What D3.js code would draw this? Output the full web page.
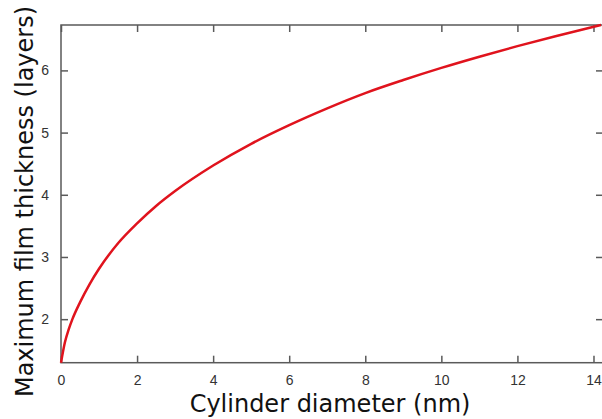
<!DOCTYPE html>
<html>
<head>
<meta charset="utf-8">
<script src="https://cdn.jsdelivr.net/npm/d3@7"></script>
<style>
  body { margin: 0; background: #fff; }
  svg { display: block; font-family: "DejaVu Sans", Verdana, sans-serif; }
</style>
</head>
<body>
<div id="chart"></div>
<script>
// curve: cylinder diameter (nm) -> max film thickness (layers)
var diameter = [0, 0.1, 0.2, 0.3, 0.5, 0.75, 1, 1.5, 2, 2.5, 3, 4, 5, 6, 7, 8, 9, 10, 11, 12, 13, 14.2];
var thickness = [1.3, 1.62, 1.83, 2.0, 2.27, 2.56, 2.81, 3.22, 3.54, 3.82, 4.06, 4.47, 4.82, 5.12, 5.39, 5.635, 5.845, 6.04, 6.22, 6.39, 6.55, 6.73];
var xTicks = [0, 2, 4, 6, 8, 10, 12, 14];
var yTicks = [2, 3, 4, 5, 6];
var xTitle = 'Cylinder diameter (nm)';
var yTitle = 'Maximum film thickness (layers)';

(function() {
  var W = 602, H = 419;
  var plotL = 61, plotR = 603, plotT = 25, plotB = 362.7;
  var axisColor = '#5a5a5a';
  var tickLen = 7;

  var x = d3.scaleLinear().domain([0, 14.25]).range([plotL, plotR]);
  var y = d3.scaleLinear().domain([1.3, 6.73]).range([plotB, plotT]);

  var svg = d3.select('#chart').append('svg')
    .attr('width', W)
    .attr('height', H);

  // frame
  svg.append('rect')
    .attr('x', plotL)
    .attr('y', plotT)
    .attr('width', plotR - plotL)
    .attr('height', plotB - plotT)
    .attr('fill', 'none')
    .attr('stroke', axisColor)
    .attr('stroke-width', 1.5);

  var gx = svg.append('g').attr('transform', 'translate(0,' + plotB + ')')
    .call(d3.axisBottom(x).tickValues(xTicks).tickSize(-tickLen).tickPadding(12).tickFormat(d3.format('d')));
  var gxTop = svg.append('g').attr('transform', 'translate(0,' + plotT + ')')
    .call(d3.axisTop(x).tickValues(xTicks).tickSize(-tickLen).tickFormat(''));
  var gy = svg.append('g').attr('transform', 'translate(' + plotL + ',0)')
    .call(d3.axisLeft(y).tickValues(yTicks).tickSize(-tickLen).tickPadding(12).tickFormat(d3.format('d')));
  var gyRight = svg.append('g').attr('transform', 'translate(' + plotR + ',0)')
    .call(d3.axisRight(y).tickValues(yTicks).tickSize(-tickLen).tickFormat(''));

  [gx, gxTop, gy, gyRight].forEach(function(g) {
    g.select('.domain').remove();
    g.selectAll('.tick line').attr('stroke', axisColor).attr('stroke-width', 1.5);
    g.selectAll('.tick text').attr('fill', '#333').style('font-size', '14px');
  });

  // curve
  var pts = diameter.map(function(d, i) { return [d, thickness[i]]; });
  svg.append('path')
    .datum(pts)
    .attr('fill', 'none')
    .attr('stroke', '#e0131d')
    .attr('stroke-width', 2.5)
    .attr('d', d3.line()
      .x(function(d) { return x(d[0]); })
      .y(function(d) { return y(d[1]); })
      .curve(d3.curveMonotoneX));

  // axis titles
  svg.append('text')
    .attr('x', 330)
    .attr('y', 412)
    .attr('text-anchor', 'middle')
    .attr('fill', '#111')
    .style('font-size', '24px')
    .text(xTitle);

  svg.append('text')
    .attr('transform', 'translate(33,201.5) rotate(-90)')
    .attr('text-anchor', 'middle')
    .attr('fill', '#111')
    .style('font-size', '24px')
    .text(yTitle);
})();
</script>
</body>
</html>
